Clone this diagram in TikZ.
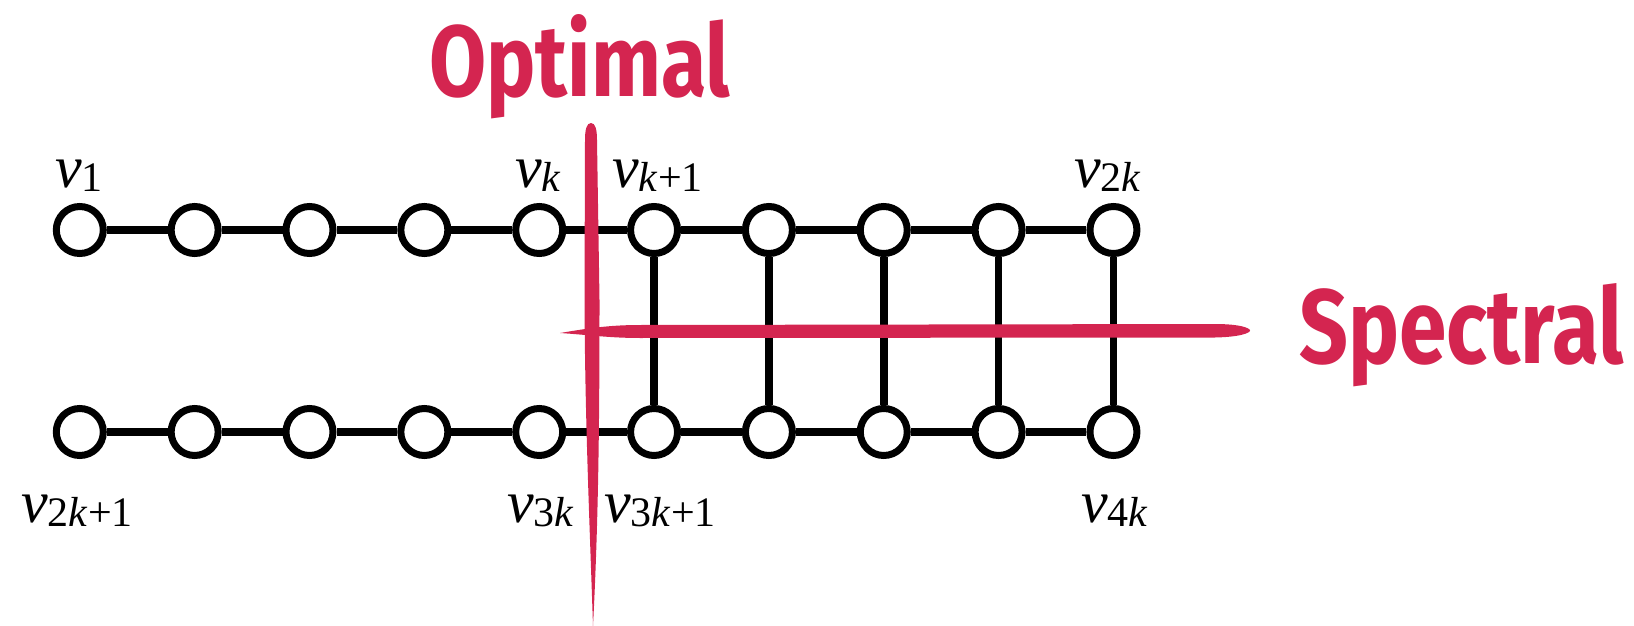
\documentclass[tikz,border=0pt]{standalone}
\usepackage{fontspec}
\usepackage{graphicx}
\setmainfont{Liberation Serif}
\newfontfamily\handfont{Fira Sans}
\definecolor{brushred}{RGB}{212,37,80}
% vertex label: italic v followed by a large, slightly lowered index
\newcommand\vlab[1]{\textit{v}\raisebox{-4pt}{\fontsize{42}{42}\selectfont #1}}
\tikzset{
  vertex/.style={circle, draw=black, fill=white, line width=7pt, minimum size=47pt, inner sep=0pt},
  pathedge/.style={draw=black, line width=8.5pt},
  rungedge/.style={draw=black, line width=7.5pt},
  vname/.style={anchor=base west, inner sep=0pt, font=\fontsize{60}{60}\selectfont},
  cutlabel/.style={anchor=base west, inner sep=0pt, text=brushred},
  brush/.style={fill=brushred}
}
\begin{document}
\begin{tikzpicture}[x=1pt, y=-1pt]
\useasboundingbox (0,0) rectangle (1634,626);

% the two rows of ten vertices
\foreach \i in {1,...,10} {
  \node[vertex] (t\i) at ({79.8+114.85*(\i-1)}, 230) {};
  \node[vertex] (b\i) at ({79.8+114.85*(\i-1)}, 432) {};
}

% path edges along each row
\foreach \i [evaluate=\i as \j using int(\i+1)] in {1,...,9} {
  \draw[pathedge] (t\i) -- (t\j);
  \draw[pathedge] (b\i) -- (b\j);
}
% rungs of the ladder
\foreach \i in {6,...,10} {
  \draw[rungedge] (t\i) -- (b\i);
}

% vertex labels
\node[vname] (l1)   at (55,187)   {\vlab{1}};
\node[vname] (lk)   at (515,187)  {\vlab{\textit{k}}};
\node[vname] (lk1)  at (612,187)  {\vlab{\textit{k}+1}};
\node[vname] (l2k)  at (1074,187) {\vlab{2\textit{k}}};
\node[vname] (l2k1) at (21,522)   {\vlab{2\textit{k}+1}};
\node[vname] (l3k)  at (507,522)  {\vlab{3\textit{k}}};
\node[vname] (l3k1) at (604,522)  {\vlab{3\textit{k}+1}};
\node[vname] (l4k)  at (1081,522) {\vlab{4\textit{k}}};

% spectral cut: horizontal brush stroke
\fill[brush] (560,333) .. controls (590,328) and (610,325) .. (640,325)
  -- (1215,324) .. controls (1240,324) and (1250,328) .. (1250,330.5)
  .. controls (1250,333) and (1240,337) .. (1215,337.5)
  -- (640,338) .. controls (610,338) and (590,335) .. (560,333) -- cycle;

% optimal cut: vertical brush stroke
\fill[brush] (591,123) .. controls (595.5,123) and (597,130) .. (597,140)
  -- (599.5,300) .. controls (599.5,420) and (598.5,520) .. (593,626)
  .. controls (589.5,520) and (585,420) .. (584.5,300)
  -- (585,140) .. controls (585,130) and (586.5,123) .. (591,123) -- cycle;

% cut names
\node[cutlabel] (opt)  at (429,97)  {\resizebox{301pt}{82pt}{\handfont\bfseries Optimal}};
\node[cutlabel] (spec) at (1299,363) {\resizebox{324pt}{80pt}{\handfont\bfseries Spectral}};
\end{tikzpicture}
\end{document}
